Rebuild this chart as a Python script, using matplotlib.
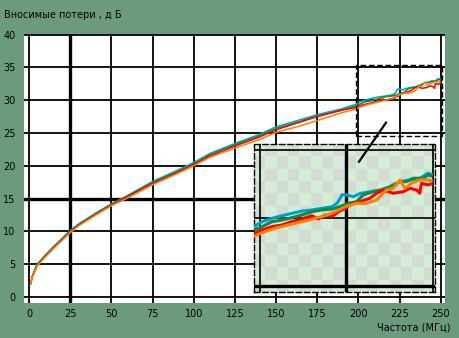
import numpy as np
import matplotlib
matplotlib.use('Agg')
import matplotlib.pyplot as plt
from matplotlib.patches import Rectangle
from matplotlib.lines import Line2D
from matplotlib.colors import ListedColormap

# Частоты и вносимые потери (дБ) для четырёх кабелей
f_lo = [1, 2, 5, 10, 15, 20, 25, 30, 40, 50, 60, 75, 90, 100, 110, 125, 140, 150, 165, 175, 190]

teal_f = f_lo + [198.2, 200.6, 203.5, 206.4, 209.2, 212.1, 215, 217.9, 220.8, 222.3, 223.2, 223.7,
                 225, 227, 228.9, 231.8, 234.7, 237.6, 240.5, 243.4, 246.2, 248.6, 249.5]
teal_db = [2.0, 3.2, 5.0, 6.4, 7.7, 8.9, 10.1, 11.1, 12.7, 14.2, 15.5, 17.6, 19.3, 20.5, 21.9,
           23.4, 24.8, 25.95, 27.05, 27.8, 28.7,
           29.36, 29.73, 29.98, 30.17, 30.34, 30.51, 30.59, 30.71, 30.83, 31.08, 31.45, 31.7,
           31.7, 31.57, 31.8, 31.93, 32.06, 32.3, 32.67, 32.8, 32.92, 33.29, 33.2]

green_f = f_lo + [198.2, 200.6, 203.5, 206.4, 209.2, 212.1, 215, 217.9, 220.8, 223.1, 225.6,
                  227.9, 229.9, 232.7, 235.6, 237.6, 240.5, 242.4, 244.3, 247.2, 248.6, 249.5]
green_db = [2.0, 3.1, 4.9, 6.3, 7.6, 8.8, 10.0, 11.0, 12.6, 14.1, 15.4, 17.45, 19.1, 20.3, 21.7,
            23.2, 24.6, 25.7, 26.8, 27.6, 28.5,
            29.12, 29.36, 29.73, 29.85, 30.02, 30.22, 30.46, 30.59, 30.66, 30.83, 31.08,
            31.2, 31.7, 31.93, 32.06, 32.3, 32.67, 32.67, 32.92, 32.92, 33.16, 33.1]

red_f = f_lo + [198.2, 200.6, 203.5, 206.4, 209.2, 212.1, 215, 216.9, 218.9, 220.8, 222.7, 224.7,
                226, 228.9, 231.8, 233.7, 235.6, 238.5, 241.4, 243.4, 245.3, 246.2, 246.7, 248.6, 249.5]
red_db = [2.0, 3.0, 4.8, 6.2, 7.5, 8.7, 9.9, 10.9, 12.5, 14.0, 15.3, 17.3, 18.95, 20.2, 21.5,
          23.0, 24.4, 25.5, 26.7, 27.5, 28.5,
          28.87, 29.12, 29.36, 29.49, 29.73, 29.93, 30.17, 29.93, 30.22, 30.1, 30.46, 30.71,
          30.96, 31.2, 31.45, 31.82, 32.06, 31.82, 31.93, 32.18, 32.06, 31.82, 32.55, 32.43, 32.5]

orange_f = f_lo + [198.2, 199.6, 201.5, 204.4, 207.3, 210.2, 213.1, 216, 218.9, 221.8, 224.7,
                   227.9, 230.8, 233.7, 236.6, 238.5, 240.5, 241.9, 243.8, 246.2, 248.6, 249.5]
orange_db = [2.0, 3.0, 4.7, 6.1, 7.4, 8.6, 9.8, 10.8, 12.4, 13.9, 15.1, 17.1, 18.8, 20.0, 21.3,
             22.7, 24.0, 25.1, 26.1, 26.9, 28.1,
             28.63, 28.8, 29.0, 29.24, 29.43, 29.61, 29.78, 29.98, 30.17, 30.46, 30.83,
             31.08, 31.08, 31.32, 32.06, 32.18, 32.8, 32.18, 32.55, 32.8, 32.8, 32.75]

series = [
    (teal_f, teal_db, '#00a0c8'),
    (green_f, green_db, '#00904a'),
    (red_f, red_db, '#ff0000'),
    (orange_f, orange_db, '#ff8000'),
]

x_ticks = list(range(0, 251, 25))
y_ticks = list(range(0, 41, 5))

bg = '#6b9b7c'
plt.rcParams['font.family'] = ['DejaVu Sans']

fig = plt.figure(figsize=(4.6, 3.38), dpi=100)
fig.patch.set_facecolor(bg)

ax = fig.add_axes([24/460, 1 - 302.5/338, 421/460, (302.5 - 34)/338])
ax.set_facecolor('white')
ax.set_xlim(-3, 252.5)
ax.set_ylim(-0.85, 40.1)

# сетка: толстые линии на 25 МГц и 15 дБ
for x in x_ticks:
    ax.axvline(x, color='black', lw=2.4 if x == 25 else 1.3, zorder=1)
for y in y_ticks:
    ax.axhline(y, color='black', lw=2.4 if y == 15 else 1.3, zorder=1)

for f, db, c in series:
    ax.plot(f, db, color=c, lw=1.1, zorder=3)

for s in ax.spines.values():
    s.set_visible(False)
ax.set_xticks(x_ticks)
ax.set_yticks(y_ticks)
ax.tick_params(length=0, labelsize=7, colors='black', pad=6)
ax.tick_params(axis='x', pad=5)

fig.text(4/460, 1 - 15/338, 'Вносимые потери , д Б', fontsize=7, va='center', ha='left')
fig.text(451/460, 1 - 327/338, 'Частота (МГц)', fontsize=7, va='center', ha='right')

# увеличенный фрагмент 200-250 МГц
xi = (198.3, 250.6)
yi = (24.56, 35.44)
ax.add_patch(Rectangle((xi[0], yi[0]), xi[1] - xi[0], yi[1] - yi[0], fill=False,
                       ls=(0, (4, 2)), lw=1.0, ec='black', zorder=4, clip_on=False))

axi = fig.add_axes([254/460, 1 - 292/338, 181/460, 148/338])
axi.set_xlim(*xi)
axi.set_ylim(*yi)
cells = (np.indices((12, 16)).sum(axis=0) % 2)
axi.imshow(cells, extent=(xi[0], xi[1], yi[0], yi[1]), aspect='auto',
           cmap=ListedColormap(['#d5edd5', '#d3dcd3']), interpolation='nearest', zorder=0)
for x in [200, 225, 250]:
    axi.axvline(x, color='black', lw=2.4 if x == 225 else 1.2, zorder=1)
for y in [25, 30, 35]:
    axi.axhline(y, color='black', lw=2.4 if y == 25 else 1.2, zorder=1)
for f, db, c in series:
    axi.plot(f, db, color=c, lw=2.2, zorder=3)
axi.set_xticks([])
axi.set_yticks([])
for s in axi.spines.values():
    s.set_linestyle((0, (4, 2)))
    s.set_linewidth(1.0)

fig.add_artist(Line2D([386/460, 359/460], [1 - 122.7/338, 1 - 161.7/338],
                      color='black', lw=1.6, transform=fig.transFigure))

fig.savefig('out.png', dpi=100, facecolor=bg)
